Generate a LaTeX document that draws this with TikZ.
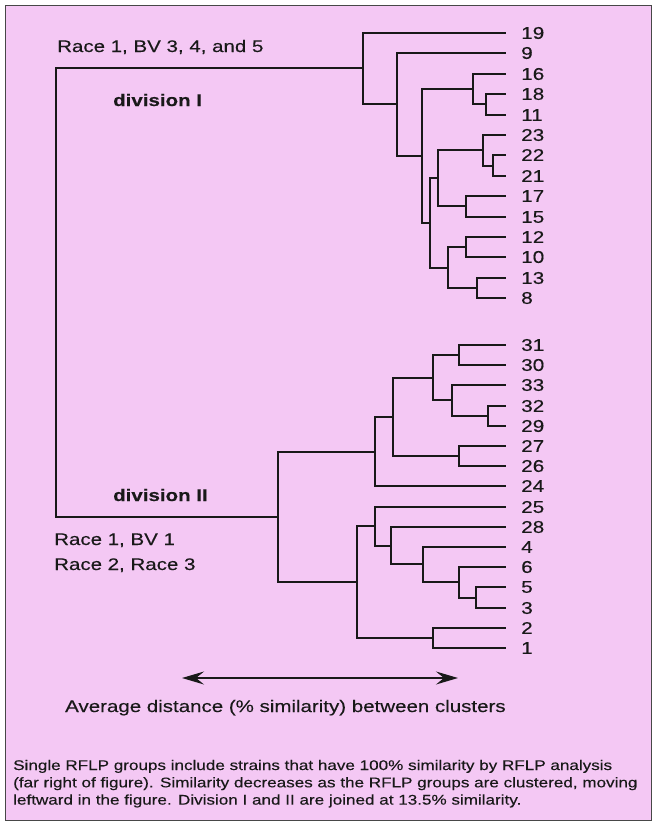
\documentclass[tikz,border=0pt]{standalone}
\usepackage{fontspec}
\usetikzlibrary{arrows.meta}
\newfontfamily\figfont{Liberation Sans}[FakeStretch=1.22,FakeBold=0.25]
\definecolor{bgpink}{RGB}{244,200,244}
\definecolor{ink}{RGB}{25,25,25}
\begin{document}
\begin{tikzpicture}[x=1pt,y=-1pt,
  tree/.style={draw=ink,line width=2pt,line cap=rect},
  frameline/.style={draw=ink!80,line width=1pt},
  leaf/.style={font=\figfont\fontsize{17}{18}\selectfont,text=ink,inner sep=0pt,anchor=west},
  big/.style={font=\figfont\fontsize{16.8}{19}\selectfont,text=ink,inner sep=0pt,anchor=base west},
  bigb/.style={font=\figfont\bfseries\fontsize{16.8}{19}\selectfont,text=ink,inner sep=0pt,anchor=base west},
  captxt/.style={font=\figfont\fontsize{14}{17}\selectfont,text=ink,inner sep=0pt,anchor=base west},
  dblarrow/.style={draw=ink,line width=1.4pt,{Stealth[length=22pt,width=13pt,inset=8pt]}-{Stealth[length=22pt,width=13pt,inset=8pt]}}]
\useasboundingbox (0,0) rectangle (652,823);
\fill[white] (0,0) rectangle (652,823);
\fill[bgpink] (5,5) rectangle (651,820);
\draw[frameline] (5,5) rectangle (651,820);

% leaves
\foreach \n/\y in {19/33,9/53,16/74,18/94,11/115,23/135,22/155,21/176,17/196,15/217,12/237,10/257,13/278,8/298,
  31/345,30/365,33/385,32/406,29/426,27/446,26/466,24/486,25/507,28/527,4/547,6/567,5/587,3/608,2/628,1/648}{
  \coordinate (l\n) at (505,\y);
  \node[leaf] (t\n) at (521,\y) {\n};
}

% internal nodes, division I
\coordinate (a486) at (486,104);
\coordinate (a473) at (473,89);
\coordinate (a493) at (493,166);
\coordinate (a483) at (483,150);
\coordinate (a466) at (466,206);
\coordinate (a438) at (438,178);
\coordinate (b466) at (466,247);
\coordinate (a477) at (477,288);
\coordinate (a448) at (448,268);
\coordinate (a430) at (430,223);
\coordinate (a422) at (422,156);
\coordinate (a397) at (397,104);
\coordinate (a363) at (363,68);
% internal nodes, division II
\coordinate (c459) at (459,355);
\coordinate (c488) at (488,416);
\coordinate (c452) at (452,400);
\coordinate (c433) at (433,378);
\coordinate (d459) at (459,456);
\coordinate (c393) at (393,417);
\coordinate (c375) at (375,452);
\coordinate (c476) at (476,598);
\coordinate (e459) at (459,582);
\coordinate (c423) at (423,564);
\coordinate (c391) at (391,546);
\coordinate (d375) at (375,526);
\coordinate (d433) at (433,638);
\coordinate (c357) at (357,582);
\coordinate (c278) at (278,517);
\coordinate (root) at (56,292);

% connectors
\draw[tree] (root) |- (a363); \draw[tree] (root) |- (c278);
\draw[tree] (a363) |- (l19); \draw[tree] (a363) |- (a397);
\draw[tree] (a397) |- (l9); \draw[tree] (a397) |- (a422);
\draw[tree] (a422) |- (a473); \draw[tree] (a422) |- (a430);
\draw[tree] (a473) |- (l16); \draw[tree] (a473) |- (a486);
\draw[tree] (a486) |- (l18); \draw[tree] (a486) |- (l11);
\draw[tree] (a430) |- (a438); \draw[tree] (a430) |- (a448);
\draw[tree] (a438) |- (a483); \draw[tree] (a438) |- (a466);
\draw[tree] (a483) |- (l23); \draw[tree] (a483) |- (a493);
\draw[tree] (a493) |- (l22); \draw[tree] (a493) |- (l21);
\draw[tree] (a466) |- (l17); \draw[tree] (a466) |- (l15);
\draw[tree] (a448) |- (b466); \draw[tree] (a448) |- (a477);
\draw[tree] (b466) |- (l12); \draw[tree] (b466) |- (l10);
\draw[tree] (a477) |- (l13); \draw[tree] (a477) |- (l8);

\draw[tree] (c278) |- (c375); \draw[tree] (c278) |- (c357);
\draw[tree] (c375) |- (c393); \draw[tree] (c375) |- (l24);
\draw[tree] (c393) |- (c433); \draw[tree] (c393) |- (d459);
\draw[tree] (c433) |- (c459); \draw[tree] (c433) |- (c452);
\draw[tree] (c459) |- (l31); \draw[tree] (c459) |- (l30);
\draw[tree] (c452) |- (l33); \draw[tree] (c452) |- (c488);
\draw[tree] (c488) |- (l32); \draw[tree] (c488) |- (l29);
\draw[tree] (d459) |- (l27); \draw[tree] (d459) |- (l26);
\draw[tree] (c357) |- (d375); \draw[tree] (c357) |- (d433);
\draw[tree] (d375) |- (l25); \draw[tree] (d375) |- (c391);
\draw[tree] (c391) |- (l28); \draw[tree] (c391) |- (c423);
\draw[tree] (c423) |- (l4); \draw[tree] (c423) |- (e459);
\draw[tree] (e459) |- (l6); \draw[tree] (e459) |- (c476);
\draw[tree] (c476) |- (l5); \draw[tree] (c476) |- (l3);
\draw[tree] (d433) |- (l2); \draw[tree] (d433) |- (l1);

% labels
\node[big] (race1) at (57,52) {Race 1, BV 3, 4, and 5};
\node[bigb] (div1) at (113,106) {division I};
\node[bigb] (div2) at (113,501) {division II};
\node[big] (race2) at (54,545) {Race 1, BV 1};
\node[big] (race3) at (54,570) {Race 2, Race 3};

% axis arrow
\coordinate (arL) at (182,678);
\coordinate (arR) at (458,678);
\draw[dblarrow] (arL) -- (arR);
\node[big] (axis) at (65,712) {Average distance (\% similarity) between clusters};

% caption
\node[captxt] (cap1) at (13,770) {Single RFLP groups include strains that have 100\% similarity by RFLP analysis};
\node[captxt] (cap2) at (13,787.3) {(far right of figure). Similarity decreases as the RFLP groups are clustered, moving};
\node[captxt] (cap3) at (13,804.6) {leftward in the figure. Division I and II are joined at 13.5\% similarity.};
\end{tikzpicture}
\end{document}
